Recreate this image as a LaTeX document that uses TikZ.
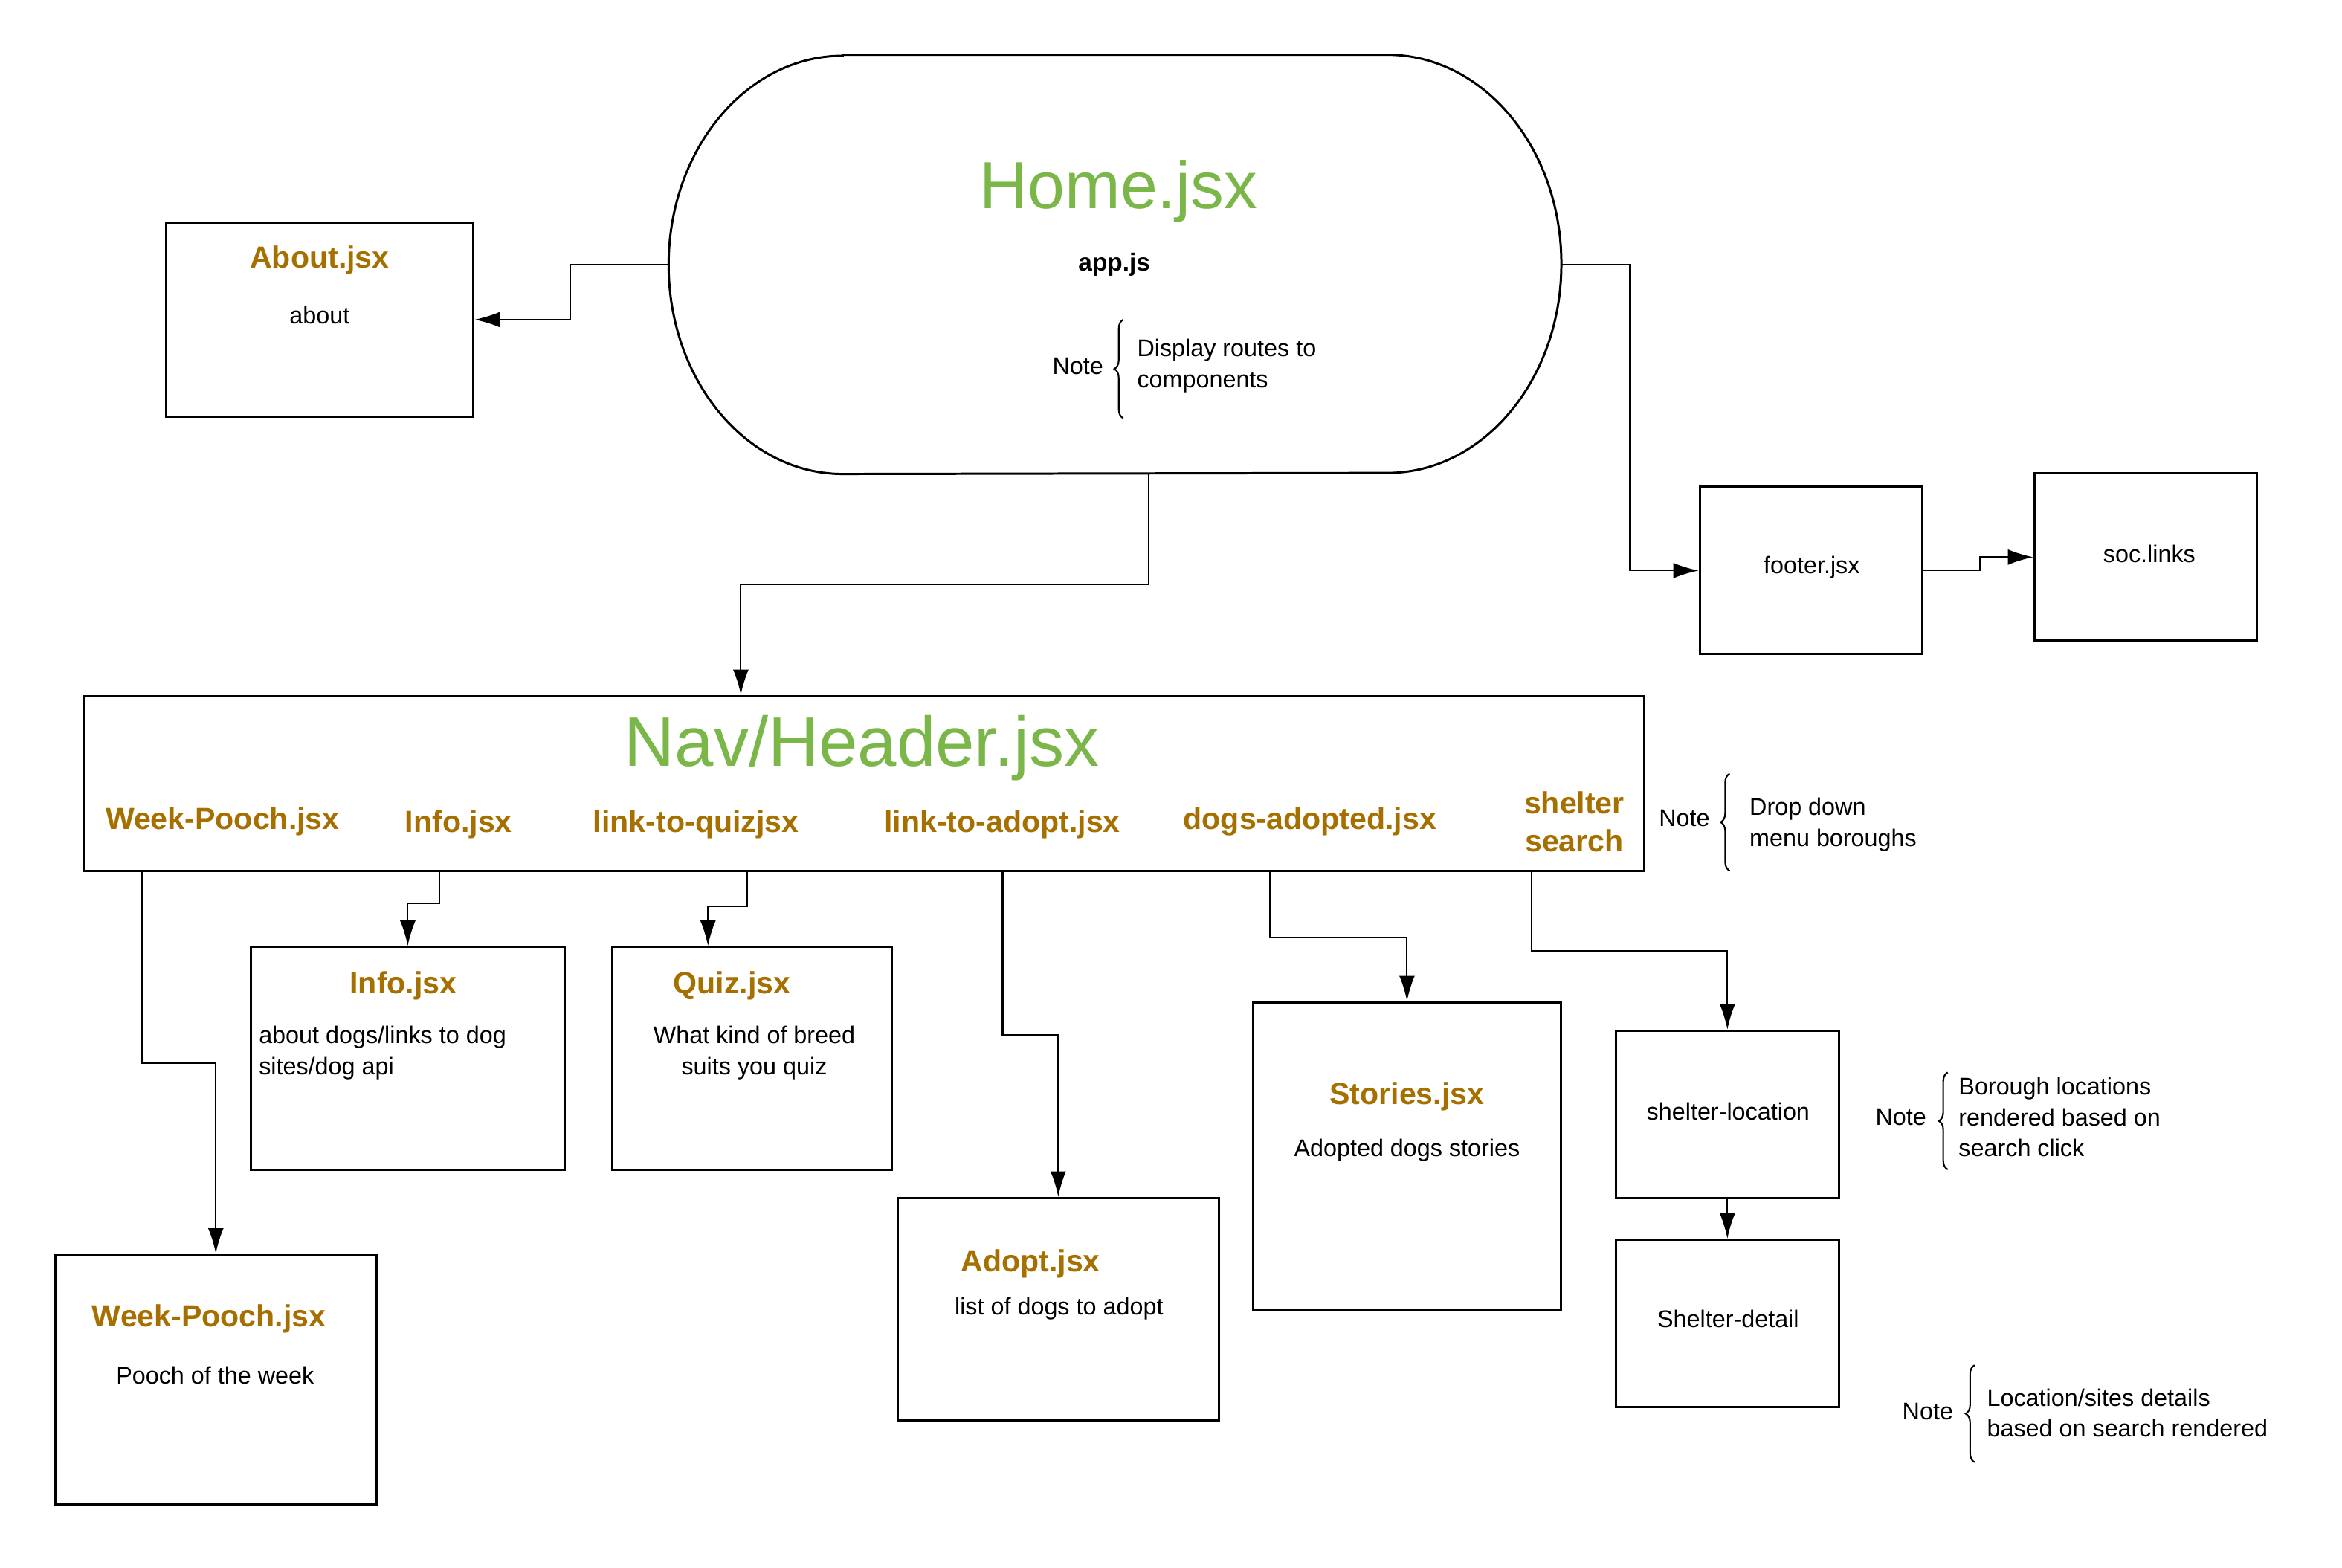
\documentclass[tikz,border=0pt]{standalone}
\usepackage{fontspec}
\setmainfont{Liberation Sans}
\usetikzlibrary{arrows.meta,fit,decorations.pathreplacing}

\newcommand{\px}{0.2009mm}
\definecolor{jsxgreen}{RGB}{122,182,72}
\definecolor{jsxbrown}{RGB}{166,112,0}

\tikzset{
  block/.style={draw, line width=0.85pt, inner sep=0pt},
  jsxtitle/.style={text=jsxbrown, font=\fontsize{11.7}{14.5}\selectfont\bfseries, align=center},
  bighead/.style={text=jsxgreen, font=\fontsize{25.5}{30}\selectfont},
  bodytext/.style={font=\fontsize{9.2}{11.8}\selectfont, align=center},
  notetext/.style={font=\fontsize{9.2}{11.8}\selectfont, align=left, inner sep=0pt},
  link/.style={line width=0.6pt, -{Latex[length=3.4mm,width=2.1mm]}},
  notebrace/.style={line width=0.6pt, decorate, decoration={brace, amplitude=1.2mm}},
}

\begin{document}
\begin{tikzpicture}[x=0.2009mm, y=-0.2009mm]
  \useasboundingbox (0,0) rectangle (1568,1049.8);

  % Home
  \node[inner sep=0pt, fit={(448,37) (1045,317)}] (home) {};
  \draw[line width=0.85pt] (home.north west) ++(116.5,0) -- ([xshift=-116.5*\px]home.north east)
    arc[start angle=90, end angle=-90, x radius=116.5*\px, y radius=140*\px]
    -- ([xshift=116.5*\px]home.south west)
    arc[start angle=270, end angle=90, x radius=116.5*\px, y radius=140*\px] -- cycle;
  \node[bighead] (hometitle) at (749,128) {Home.jsx};
  \node[font=\fontsize{9.5}{12}\selectfont\bfseries] (appjs) at (746,177) {app.js};
  \node[notetext, anchor=east] (homenote) at (739,245) {Note};
  \draw[notebrace] (752,280) -- (752,214);
  \node[notetext, anchor=west] (homenotetxt) at (761,245) {Display routes to\\components};

  % About
  \node[block, fit={(111,149) (317,279)}] (about) {};
  \node[jsxtitle] (abouttitle) at (214,174) {About.jsx};
  \node[bodytext] (abouttxt) at (214,211) {about};
  \draw[link] (home.west) -- ++(-66,0) |- (about.east);

  % Footer
  \node[block, fit={(1138,326) (1287,438)}] (footer) {};
  \node[bodytext] (footertxt) at (1213,380) {footer.jsx};
  \node[block, fit={(1362,317) (1511,429)}] (soc) {};
  \node[bodytext] (soctxt) at (1439,371) {soc.links};
  \draw[link] (home.east) -- ++(46,0) |- (footer.west);
  \draw[link] (footer.east) -- ++(38,0) |- (soc.west);

  % Nav/Header
  \node[block, fit={(56,466) (1101,583)}] (nav) {};
  \node[bighead, font=\fontsize{26.8}{31}\selectfont] (navtitle) at (577,501) {Nav/Header.jsx};
  \node[jsxtitle] (navweek) at (149,550) {Week-Pooch.jsx};
  \node[jsxtitle] (navinfo) at (307,552) {Info.jsx};
  \node[jsxtitle] (navquiz) at (466,552) {link-to-quizjsx};
  \node[jsxtitle] (navadopt) at (671,552) {link-to-adopt.jsx};
  \node[jsxtitle] (navstories) at (877,550) {dogs-adopted.jsx};
  \node[jsxtitle] (navshelter) at (1054,550) {shelter\\search};
  \draw[link] ([xshift=22.5*\px]home.south) -- ++(0,74) -| ([xshift=-82.5*\px]nav.north);
  \node[notetext, anchor=east] (navnote) at (1145,548) {Note};
  \draw[notebrace] (1158,583) -- (1158,518);
  \node[notetext, anchor=west] (navnotetxt) at (1171,552) {Drop down\\menu boroughs};

  % Week-Pooch
  \node[block, fit={(37,840) (252,1007)}] (week) {};
  \node[jsxtitle] (weektitle) at (140,883) {Week-Pooch.jsx};
  \node[bodytext] (weektxt) at (144,921) {Pooch of the week};
  \draw[link] (nav.south west) ++(40,0) -- ++(0,128) -| (week.north);

  % Info
  \node[block, fit={(168,634) (378,783)}] (info) {};
  \node[jsxtitle] (infotitle) at (270,660) {Info.jsx};
  \node[notetext, anchor=west] (infotxt) at (173,705) {about dogs/links to dog\\sites/dog api};
  \draw[link] (nav.south west) ++(239,0) -- ++(0,21) -| (info.north);

  % Quiz
  \node[block, fit={(410,634) (597,783)}] (quiz) {};
  \node[jsxtitle] (quiztitle) at (490,660) {Quiz.jsx};
  \node[bodytext] (quiztxt) at (505,705) {What kind of breed\\suits you quiz};
  \draw[link] (nav.south west) ++(445,0) -- ++(0,23) -| ([xshift=-29.5*\px]quiz.north);

  % Adopt
  \node[block, fit={(601,802) (816,951)}] (adopt) {};
  \node[jsxtitle] (adopttitle) at (690,846) {Adopt.jsx};
  \node[bodytext] (adopttxt) at (709,876) {list of dogs to adopt};
  \draw[link] (nav.south west) ++(616,0) -- ++(0,109) -| (adopt.north);

  % Stories
  \node[block, fit={(839,671) (1045,877)}] (stories) {};
  \node[jsxtitle] (storiestitle) at (942,734) {Stories.jsx};
  \node[bodytext] (storiestxt) at (942,770) {Adopted dogs stories};
  \draw[link] (nav.south west) ++(795,0) -- ++(0,44) -| (stories.north);

  % Shelter
  \node[block, fit={(1082,690) (1231,802)}] (shelterloc) {};
  \node[bodytext] (shelterloctxt) at (1157,744) {shelter-location};
  \node[block, fit={(1082,830) (1231,942)}] (shelterdet) {};
  \node[bodytext] (shelterdettxt) at (1157,883) {Shelter-detail};
  \draw[link] (nav.south west) ++(970,0) -- ++(0,53) -| (shelterloc.north);
  \draw[link] (shelterloc.south) -- (shelterdet.north);

  \node[notetext, anchor=east] (locnote) at (1290,748) {Note};
  \draw[notebrace] (1304,783) -- (1304,718);
  \node[notetext, anchor=west] (locnotetxt) at (1311,748) {Borough locations\\rendered based on\\search click};

  \node[notetext, anchor=east] (detnote) at (1308,945) {Note};
  \draw[notebrace] (1322,979) -- (1322,914);
  \node[notetext, anchor=west] (detnotetxt) at (1330,946) {Location/sites details\\based on search rendered};

\end{tikzpicture}
\end{document}
